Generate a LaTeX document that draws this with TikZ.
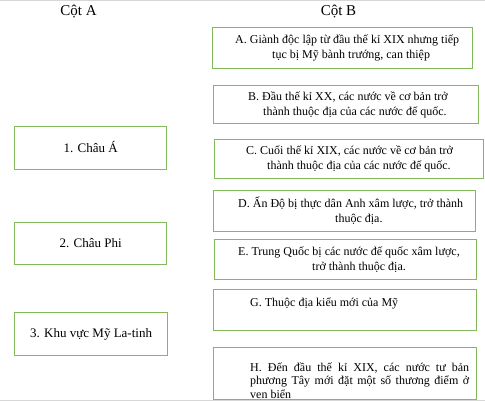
\documentclass[tikz,border=0pt]{standalone}
\usepackage{fontspec}
\setmainfont{Liberation Serif}
\usepackage{tikz}
\usetikzlibrary{positioning}
\definecolor{boxgreen}{RGB}{130,185,90}
\definecolor{edgegrey}{RGB}{215,215,215}

\begin{document}
\begin{tikzpicture}[x=1pt,y=-1pt]
        \tikzstyle{every node}=[inner sep=0pt]
        \tikzstyle{box}=[draw=boxgreen, line width=1.2pt, anchor=north west]
        \tikzstyle{txt}=[anchor=west, align=left, font=\fontsize{12}{15}\selectfont]
        \tikzstyle{head}=[font=\fontsize{15}{18}\selectfont]

        \useasboundingbox (0,0) rectangle (485,401);

        % vien trang
        \draw[edgegrey, line width=1pt] (0,0.8) -- (485,0.8);
        \draw[edgegrey, line width=1pt] (0,400.2) -- (485,400.2);

        % tieu de hai cot
        \node   (colA)  [head] at (78.5,12) {Cột A};
        \node   (colB)  [head] at (338.5,12) {Cột B};

        % cot A
        \node   (chau1) [box, minimum width=152pt, minimum height=43pt, font=\fontsize{13}{16}\selectfont] at (14,126) {\raisebox{2pt}{1. Châu Á}};
        \node   (chau2) [box, minimum width=152pt, minimum height=42pt, font=\fontsize{13}{16}\selectfont] at (14,222) {\raisebox{2pt}{2. Châu Phi}};
        \node   (chau3) [box, minimum width=153pt, minimum height=43pt, font=\fontsize{13}{16}\selectfont] at (14,312) {\raisebox{2pt}{3. Khu vực Mỹ La-tinh}};

        % cot B
        \node   (boxA)  [box, minimum width=260pt, minimum height=41pt] at (212,27) {};
        \node   (boxB)  [box, minimum width=265pt, minimum height=38pt] at (213,85) {};
        \node   (boxC)  [box, minimum width=269pt, minimum height=39pt] at (214,139) {};
        \node   (boxD)  [box, minimum width=262pt, minimum height=41pt] at (213,190) {};
        \node   (boxE)  [box, minimum width=262pt, minimum height=40pt] at (214,239) {};
        \node   (boxG)  [box, minimum width=263pt, minimum height=41pt] at (213,289) {};
        \node   (boxH)  [box, minimum width=263pt, minimum height=52pt] at (213,347) {};

        \node   (txtA)  [txt] at ([xshift=23pt]boxA.west)
            {A. Giành độc lập từ đầu thế kỉ XIX nhưng tiếp\\\hspace*{37pt}tục bị Mỹ bành trướng, can thiệp};
        \node   (txtB)  [txt] at ([xshift=35pt]boxB.west)
            {B. Đầu thế kỉ XX, các nước về cơ bản trở\\\hspace*{15pt}thành thuộc địa của các nước đế quốc.};
        \node   (txtC)  [txt] at ([xshift=32pt]boxC.west)
            {C. Cuối thế kỉ XIX, các nước về cơ bản trở\\\hspace*{21pt}thành thuộc địa của các nước đế quốc.};
        \node   (txtD)  [txt] at ([xshift=25pt]boxD.west)
            {D. Ấn Độ bị thực dân Anh xâm lược, trở thành\\\hspace*{97pt}thuộc địa.};
        \node   (txtE)  [txt] at ([xshift=24pt]boxE.west)
            {E. Trung Quốc bị các nước đế quốc xâm lược,\\\hspace*{74pt}trở thành thuộc địa.};
        \node   (txtG)  [txt] at ([xshift=37pt, yshift=6.5pt]boxG.west)
            {G. Thuộc địa kiểu mới của Mỹ};
        \node   (txtH)  [txt, align=justify, text width=219pt, font=\fontsize{12}{13.3}\selectfont] at ([xshift=37pt, yshift=-7pt]boxH.west)
            {H. Đến đầu thế kỉ XIX, các nước tư bản phương Tây mới đặt một số thương điểm ở ven biển};

    \end{tikzpicture}
\end{document}
